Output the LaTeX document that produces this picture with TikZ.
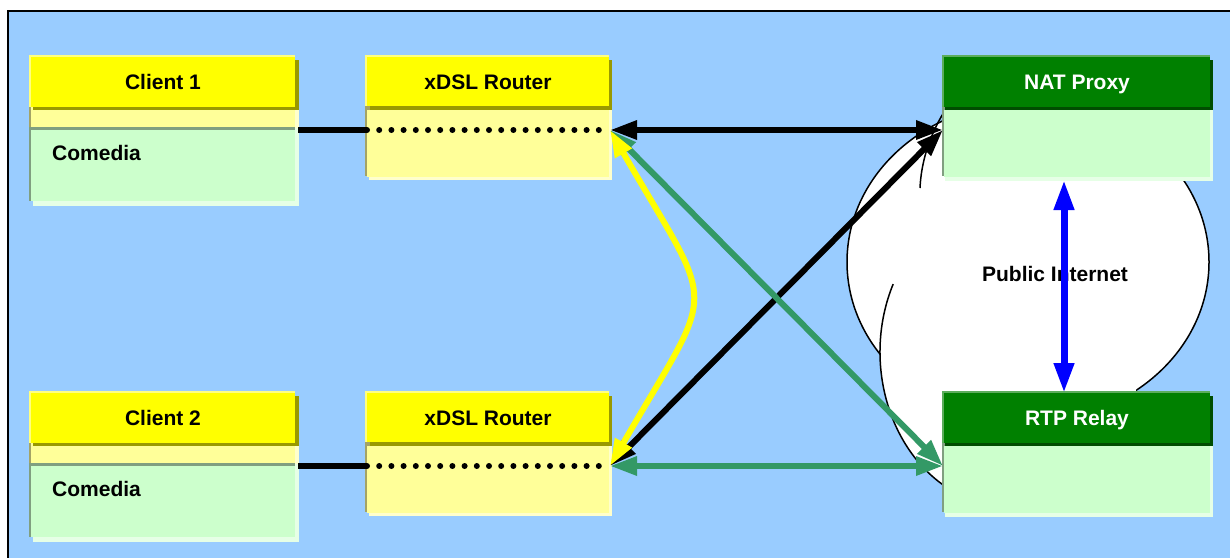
\documentclass[tikz,border=0pt]{standalone}
\usepackage{fontspec}
\setmainfont{Liberation Sans}
\usetikzlibrary{arrows.meta,calc}

\definecolor{sky}{HTML}{99CCFF}
\definecolor{barYellow}{HTML}{FFFF00}
\definecolor{barYellowHi}{HTML}{FFFF80}
\definecolor{barOlive}{HTML}{999900}
\definecolor{paleYellow}{HTML}{FFFF99}
\definecolor{paleYellowHi}{HTML}{FFFFCC}
\definecolor{paleYellowLo}{HTML}{A3A366}
\definecolor{mint}{HTML}{CCFFCC}
\definecolor{mintHi}{HTML}{E6FFE6}
\definecolor{mintLo}{HTML}{809F80}
\definecolor{barGreen}{HTML}{008000}
\definecolor{barGreenHi}{HTML}{5CAD5C}
\definecolor{barGreenLo}{HTML}{004D00}
\definecolor{linkGreen}{HTML}{339966}

\tikzset{
  panel/.style={rectangle, inner sep=0pt, outer sep=0pt, anchor=north west},
  titlebar/.style={panel, align=center, text height=15pt, text depth=0pt,
    font=\bfseries\fontsize{21}{25}\selectfont},
  bodytext/.style={anchor=base west, inner sep=0pt, font=\bfseries\fontsize{21}{25}\selectfont},
  cloudline/.style={line width=1.5pt, draw=black},
  wire/.style={line width=6.5pt, draw=black},
  dotrow/.style={line width=6pt, draw=black, line cap=round, dash pattern=on 0pt off 12.2pt},
  flow/.style={{Triangle[length=27pt,width=18pt]}-{Triangle[length=27pt,width=18pt]}, line width=6pt},
}

% client: yellow title bar over a pale yellow strip and a mint body
\newcommand\clientbox[5]{%
  \begin{scope}[shift={(#2,#3)}]
    \fill[mintHi] (4,73) rectangle (270,151);
    \fill[paleYellowHi] (4,50) rectangle (270,73);
    \fill[paleYellowLo] (0,48) rectangle (266,72);
    \fill[paleYellow] (2,50) rectangle (266,72);
    \fill[mintLo] (0,72) rectangle (266,146);
    \node[panel, fill=mint, minimum width=264pt, minimum height=71pt] (#1) at (2,75) {};
    \node[bodytext] (#1txt) at (23,105) {#5};
    \fill[barOlive] (4,5) rectangle (270,55);
    \fill[barYellowHi] (0,0) rectangle (266,52);
    \node[titlebar, fill=barYellow, minimum width=264pt, minimum height=50pt] (#1t) at (2,2) {#4};
  \end{scope}}

% router: yellow title bar over a pale yellow body
\newcommand\routerbox[4]{%
  \begin{scope}[shift={(#2,#3)}]
    \fill[paleYellowHi] (4,52) rectangle (247,125);
    \fill[paleYellowLo] (0,49) rectangle (244,121);
    \node[panel, fill=paleYellow, minimum width=242pt, minimum height=67pt] (#1) at (2,55) {};
    \fill[barOlive] (5,5) rectangle (247,55);
    \fill[barYellowHi] (0,0) rectangle (244,51);
    \node[titlebar, fill=barYellow, minimum width=242pt, minimum height=49pt] (#1t) at (2,2) {#4};
  \end{scope}}

% server: dark green title bar over a mint body
\newcommand\serverbox[4]{%
  \begin{scope}[shift={(#2,#3)}]
    \fill[mintHi] (3,55) rectangle (271,126);
    \fill[mintLo] (0,50) rectangle (268,121);
    \node[panel, fill=mint, minimum width=266pt, minimum height=67pt] (#1) at (2,55) {};
    \fill[barGreenLo] (3,5) rectangle (271,55);
    \fill[barGreenHi] (0,0) rectangle (268,52);
    \node[titlebar, fill=barGreen, text=white, minimum width=266pt, minimum height=50pt] (#1t) at (2,2) {#4};
  \end{scope}}

\begin{document}
\begin{tikzpicture}[x=1pt,y=-1pt]
  \useasboundingbox (0,0) rectangle (1230,557);
  \clip (0,0) rectangle (1230,557);

  % page and frame
  \fill[white] (0,0) rectangle (1230,557);
  \fill[sky] (8,11) rectangle (1240,570);
  \draw[line width=2pt] (8,570) -- (8,11) -- (1240,11);

  % internet cloud
  \path[fill=white, cloudline] (1028,262) ellipse [x radius=181, y radius=160];
  \fill[white] (1010,352) ellipse [x radius=130, y radius=155];
  \draw[cloudline] (1010,352) ++(206:130 and 155) arc[start angle=206, end angle=60, x radius=130, y radius=155];
  \draw[cloudline] (920,188) .. controls (921,165) and (928,138) .. (944,112);

  % boxes
  \clientbox{c1}{29}{55}{Client 1}{Comedia}
  \clientbox{c2}{29}{391}{Client 2}{Comedia}
  \routerbox{r1}{365}{55}{xDSL Router}
  \routerbox{r2}{365}{391}{xDSL Router}
  \serverbox{nat}{942}{55}{NAT Proxy}
  \serverbox{rtp}{942}{391}{RTP Relay}

  \node[font=\bfseries\fontsize{21}{25}\selectfont, inner sep=0pt] (net) at (1055,273.5) {Public Internet};

  % attachment points
  \coordinate (r1port) at (610,130);
  \coordinate (r2port) at (610,466);
  \coordinate (natport) at (943,130);
  \coordinate (rtpport) at (943,466);

  % client to router links
  \draw[wire] ($(c1.east |- r1port)+(3,0)$) -- (r1.west |- r1port);
  \draw[wire] ($(c2.east |- r2port)+(3,0)$) -- (r2.west |- r2port);
  \draw[dotrow] (r1.west |- r1port) -- (r1port);
  \draw[dotrow] (r2.west |- r2port) -- (r2port);

  % signalling and media paths
  \draw[flow, black] (r1port) -- (natport);
  \draw[flow, black] (r2port) -- (natport);
  \draw[flow, linkGreen] (r1port) -- (rtpport);
  \draw[flow, linkGreen] (r2port) -- (rtpport);
  \draw[flow, barYellow] (r1port) to[out=-60, in=60, looseness=1.65] (r2port);
  \draw[flow, blue, line width=7pt, {Triangle[length=30pt,width=19pt]}-{Triangle[length=30pt,width=19pt]}]
    ([xshift=-13pt,yshift=-3pt]nat.south) -- ([xshift=-13pt]rtpt.north);
\end{tikzpicture}
\end{document}
